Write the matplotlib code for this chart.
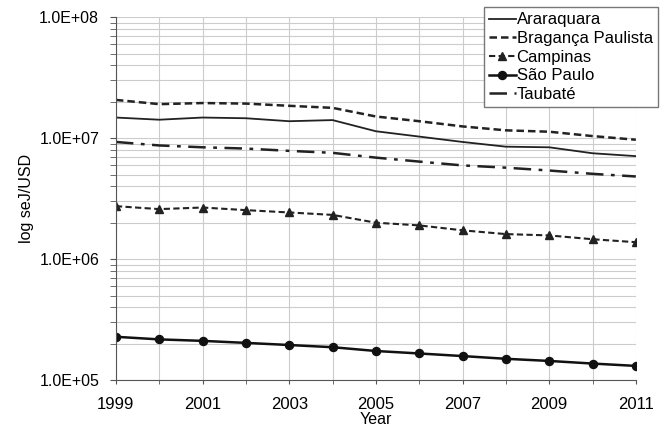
import numpy as np
import matplotlib.pyplot as plt
from matplotlib.ticker import FuncFormatter, FixedLocator, MultipleLocator, LogLocator

plt.rcParams['font.family'] = ['Liberation Sans', 'DejaVu Sans']

years = np.arange(1999, 2012)
year_labels = np.arange(1999, 2012, 2)

araraquara = [1.48e7, 1.42e7, 1.48e7, 1.46e7, 1.38e7, 1.41e7, 1.14e7,
              1.03e7, 9.3e6, 8.5e6, 8.4e6, 7.5e6, 7.1e6]
braganca = [2.07e7, 1.91e7, 1.95e7, 1.93e7, 1.85e7, 1.78e7, 1.51e7,
            1.38e7, 1.25e7, 1.16e7, 1.13e7, 1.04e7, 9.7e6]
campinas = [2.74e6, 2.59e6, 2.67e6, 2.54e6, 2.43e6, 2.32e6, 2.0e6,
            1.90e6, 1.73e6, 1.61e6, 1.57e6, 1.46e6, 1.38e6]
sao_paulo = [2.28e5, 2.17e5, 2.11e5, 2.03e5, 1.95e5, 1.87e5, 1.74e5,
             1.66e5, 1.58e5, 1.50e5, 1.44e5, 1.37e5, 1.31e5]
taubate = [9.3e6, 8.7e6, 8.4e6, 8.2e6, 7.85e6, 7.56e6, 6.9e6,
           6.4e6, 5.95e6, 5.7e6, 5.4e6, 5.07e6, 4.82e6]

fig = plt.figure(figsize=(6.7, 4.29), dpi=100)
ax = fig.add_axes([0.173, 0.114, 0.776, 0.846])

ax.plot(years, araraquara, color='#222222', lw=1.3, label='Araraquara')
ax.plot(years, braganca, color='#222222', lw=1.8, dashes=(3, 1.6),
        label='Bragança Paulista')
ax.plot(years, campinas, color='#222222', lw=1.5, dashes=(3, 1.6),
        marker='^', ms=5.5, label='Campinas')
ax.plot(years, sao_paulo, color='#111111', lw=1.8, marker='o', ms=5.8,
        label='São Paulo')
ax.plot(years, taubate, color='#222222', lw=1.8, dashes=(7, 3, 1.5, 3),
        label='Taubaté')

ax.set_yscale('log')
ax.set_ylim(1e5, 1e8)
ax.set_xlim(1999, 2011)
ax.yaxis.set_major_locator(LogLocator(base=10))
ax.yaxis.set_minor_locator(LogLocator(base=10, subs=np.arange(2, 10)))
ax.yaxis.set_minor_formatter(FuncFormatter(lambda v, p: ''))
ax.yaxis.set_major_formatter(FuncFormatter(lambda v, p: f'{v:.1E}'))
ax.xaxis.set_major_locator(FixedLocator(year_labels))
ax.xaxis.set_minor_locator(MultipleLocator(1))

ax.grid(True, which='both', axis='both', color='#cccccc', lw=0.8)
ax.set_axisbelow(True)

for s in ('top', 'right'):
    ax.spines[s].set_visible(False)
for s in ('left', 'bottom'):
    ax.spines[s].set_color('#555555')
ax.tick_params(which='both', colors='#555555', labelcolor='black')
ax.tick_params(axis='y', which='both', length=4, pad=8, labelsize=11.5)
ax.tick_params(axis='x', which='both', length=3, pad=9, labelsize=12)

ax.set_xlabel('Year', fontsize=11.5, labelpad=0)
ax.set_ylabel('log seJ/USD', fontsize=11.5, labelpad=4)

leg = ax.legend(loc='upper right', bbox_to_anchor=(1.042, 1.027),
                fontsize=12, handlelength=1.6, handletextpad=0.05,
                labelspacing=0.22, borderpad=0.3, borderaxespad=0,
                fancybox=False, framealpha=1, edgecolor='#777777')
leg.get_frame().set_linewidth(1.0)

fig.savefig('out.png', dpi=100)
